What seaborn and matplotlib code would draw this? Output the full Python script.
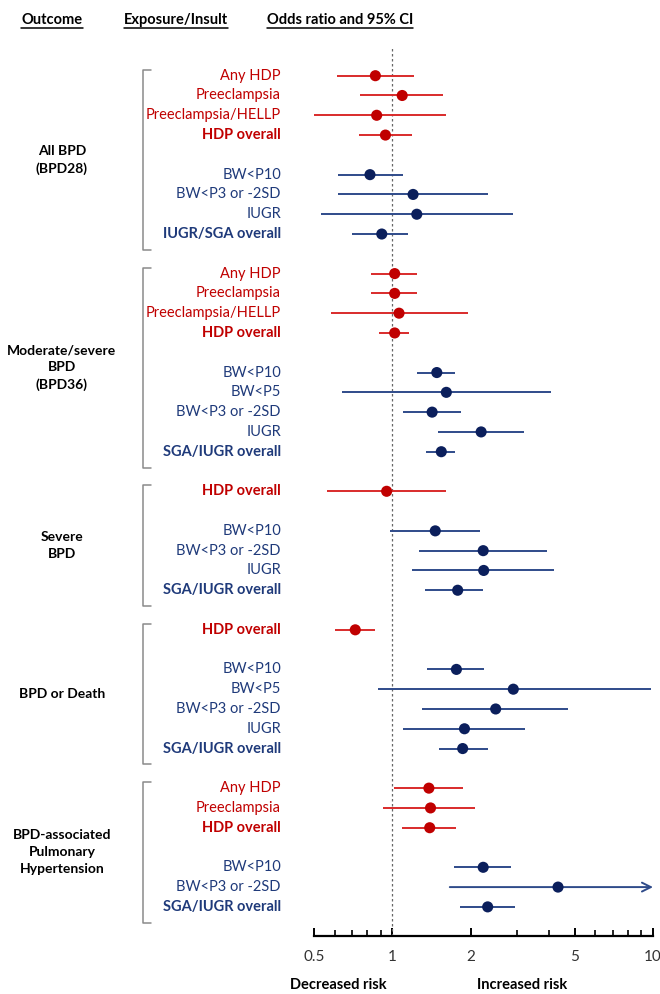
import numpy as np
import pandas as pd
import seaborn as sns
import matplotlib.pyplot as plt
from matplotlib.lines import Line2D
from matplotlib.transforms import blended_transform_factory
from matplotlib.ticker import FixedLocator, FixedFormatter, NullFormatter

# ---- data ----
outcomes = ['All BPD\n(BPD28)', 'Moderate/severe\nBPD\n(BPD36)', 'Severe\nBPD',
            'BPD or Death', 'BPD-associated\nPulmonary\nHypertension']

# hypertensive disorders of pregnancy, per outcome
hdp_labels = [['Any HDP', 'Preeclampsia', 'Preeclampsia/HELLP', 'HDP overall'],
              ['Any HDP', 'Preeclampsia', 'Preeclampsia/HELLP', 'HDP overall'],
              ['HDP overall'],
              ['HDP overall'],
              ['Any HDP', 'Preeclampsia', 'HDP overall']]
hdp_or = [[0.86, 1.09, 0.87, 0.94], [1.02, 1.02, 1.06, 1.02], [0.95], [0.72], [1.38, 1.40, 1.39]]
hdp_lo = [[0.61, 0.75, 0.47, 0.745], [0.83, 0.83, 0.58, 0.89], [0.56], [0.60], [1.01, 0.92, 1.09]]
hdp_hi = [[1.21, 1.57, 1.60, 1.19], [1.24, 1.24, 1.95, 1.16], [1.60], [0.86], [1.87, 2.08, 1.76]]

# growth restriction / SGA, per outcome
sga_labels = [['BW<P10', 'BW<P3 or -2SD', 'IUGR', 'IUGR/SGA overall'],
              ['BW<P10', 'BW<P5', 'BW<P3 or -2SD', 'IUGR', 'SGA/IUGR overall'],
              ['BW<P10', 'BW<P3 or -2SD', 'IUGR', 'SGA/IUGR overall'],
              ['BW<P10', 'BW<P5', 'BW<P3 or -2SD', 'IUGR', 'SGA/IUGR overall'],
              ['BW<P10', 'BW<P3 or -2SD', 'SGA/IUGR overall']]
sga_or = [[0.82, 1.20, 1.24, 0.91], [1.48, 1.61, 1.42, 2.19, 1.54], [1.46, 2.23, 2.24, 1.78],
          [1.76, 2.91, 2.49, 1.89, 1.86], [2.23, 4.32, 2.32]]
sga_lo = [[0.62, 0.62, 0.53, 0.70], [1.24, 0.64, 1.10, 1.50, 1.35], [0.98, 1.26, 1.19, 1.33],
          [1.36, 0.88, 1.30, 1.10, 1.51], [1.73, 1.66, 1.82]]
# inf = upper limit off the scale (drawn as arrow)
sga_hi = [[1.10, 2.32, 2.90, 1.15], [1.74, 4.06, 1.84, 3.20, 1.74], [2.16, 3.92, 4.16, 2.22],
          [2.24, 9.8, 4.73, 3.22, 2.32], [2.85, np.inf, 2.95]]

xticks = [0.5, 1, 2, 5, 10]
xtick_labels = ['0.5', '1', '2', '5', '10']
xminor = [0.6, 0.7, 0.8, 0.9, 3, 4, 6, 7, 8, 9]

RED, RED_LINE = '#C00000', '#D92B2B'
BLUE, BLUE_LINE, BLUE_TXT = '#0B1F5C', '#2F4B8A', '#1F3A7A'

# ---- build long table with row positions ----
recs = []
groups = []
row = 0
for g in range(len(outcomes)):
    first = row
    for lab, o, lo, hi in zip(hdp_labels[g], hdp_or[g], hdp_lo[g], hdp_hi[g]):
        recs.append(dict(group=g, label=lab, kind='HDP', OR=o, lo=lo, hi=hi, row=row))
        row += 1
    row += 1
    for lab, o, lo, hi in zip(sga_labels[g], sga_or[g], sga_lo[g], sga_hi[g]):
        recs.append(dict(group=g, label=lab, kind='SGA', OR=o, lo=lo, hi=hi, row=row))
        row += 1
    groups.append((first, row - 1))
    row += 1
df = pd.DataFrame(recs)

sns.set_theme(style='white')
plt.rcParams['font.family'] = ['Lato', 'DejaVu Sans']

W, H = 660, 994
fig = plt.figure(figsize=(W / 100, H / 100), dpi=100)
ax_top, ax_bot = 48, 935.7
ax = fig.add_axes([314 / W, 1 - ax_bot / H, (653 - 314) / W, (ax_bot - ax_top) / H])
ax.set_xscale('log')
ax.set_xlim(0.5, 10)
pitch, row0 = 19.79, 75.7
ax.set_ylim((ax_bot - row0) / pitch, (ax_top - row0) / pitch)

ax.axvline(1, color='#666666', lw=0.9, ls=(0, (2, 2)), zorder=1)

xmax = ax.get_xlim()[1]
for kind, col in [('HDP', RED_LINE), ('SGA', BLUE_LINE)]:
    sub = df[df.kind == kind]
    closed = sub[np.isfinite(sub.hi)]
    ax.hlines(closed.row, closed.lo, closed.hi, colors=col, lw=1.4, zorder=2)
    for _, r in sub[~np.isfinite(sub.hi)].iterrows():
        ax.annotate('', xy=(xmax, r.row), xytext=(r.lo, r.row),
                    arrowprops=dict(arrowstyle='->', color=col, lw=1.4,
                                    mutation_scale=16, shrinkA=0, shrinkB=0),
                    annotation_clip=False, zorder=2)

sns.scatterplot(data=df, x='OR', y='row', hue='kind', palette={'HDP': RED, 'SGA': BLUE},
                s=64, linewidth=0, legend=False, ax=ax, zorder=3)

# axis styling
for s in ['top', 'right', 'left']:
    ax.spines[s].set_visible(False)
ax.spines['bottom'].set_color('black')
ax.spines['bottom'].set_linewidth(1.6)
ax.set_yticks([])
ax.xaxis.set_major_locator(FixedLocator(xticks))
ax.xaxis.set_major_formatter(FixedFormatter(xtick_labels))
ax.xaxis.set_minor_locator(FixedLocator(xminor))
ax.xaxis.set_minor_formatter(NullFormatter())
ax.tick_params(axis='x', which='major', direction='in', length=6, width=1.4,
               color='black', labelsize=11, labelcolor='#333333', pad=10, bottom=True)
ax.tick_params(axis='x', which='minor', direction='in', length=4, width=1.2,
               color='black', bottom=True)
ax.set_xlabel('')
ax.set_ylabel('')

# exposure labels
tr = blended_transform_factory(fig.transFigure, ax.transData)
for _, r in df.iterrows():
    bold = 'overall' in r.label
    ax.text(281 / W, r.row, r.label, transform=tr, ha='right', va='center',
            fontsize=10.5, fontweight='bold' if bold else 'normal',
            color=RED if r.kind == 'HDP' else BLUE_TXT)

# outcome labels and brackets
for g, (a, b) in enumerate(groups):
    top, bot = a - 0.3, b + 0.8
    fig.add_artist(Line2D(np.array([151, 143, 143, 151]) / W, [top, top, bot, bot],
                          transform=tr, color='#8a8a8a', lw=1.1))
    ax.text(62 / W, (top + bot) / 2, outcomes[g], transform=tr, ha='center', va='center',
            ma='center', fontsize=10, fontweight='bold', color='black', linespacing=1.5)

# column headers, underlined
heads = [('Outcome', 52), ('Exposure/Insult', 176), ('Odds ratio and 95% CI', 340)]
htexts = [fig.text(x / W, 1 - 20 / H, t, ha='center', va='center', fontsize=10.5,
                   fontweight='bold', color='black') for t, x in heads]
fig.canvas.draw()
rend = fig.canvas.get_renderer()
for t in htexts:
    bb = t.get_window_extent(rend)
    fig.add_artist(Line2D([bb.x0 / W, bb.x1 / W], [(bb.y0 - 1) / H] * 2,
                          transform=fig.transFigure, color='black', lw=1.1))

fig.text(338 / W, 1 - 985 / H, 'Decreased risk', ha='center', va='center',
         fontsize=10.5, fontweight='bold', color='black')
fig.text(522 / W, 1 - 985 / H, 'Increased risk', ha='center', va='center',
         fontsize=10.5, fontweight='bold', color='black')

fig.savefig('out.png', dpi=100, facecolor='white')
